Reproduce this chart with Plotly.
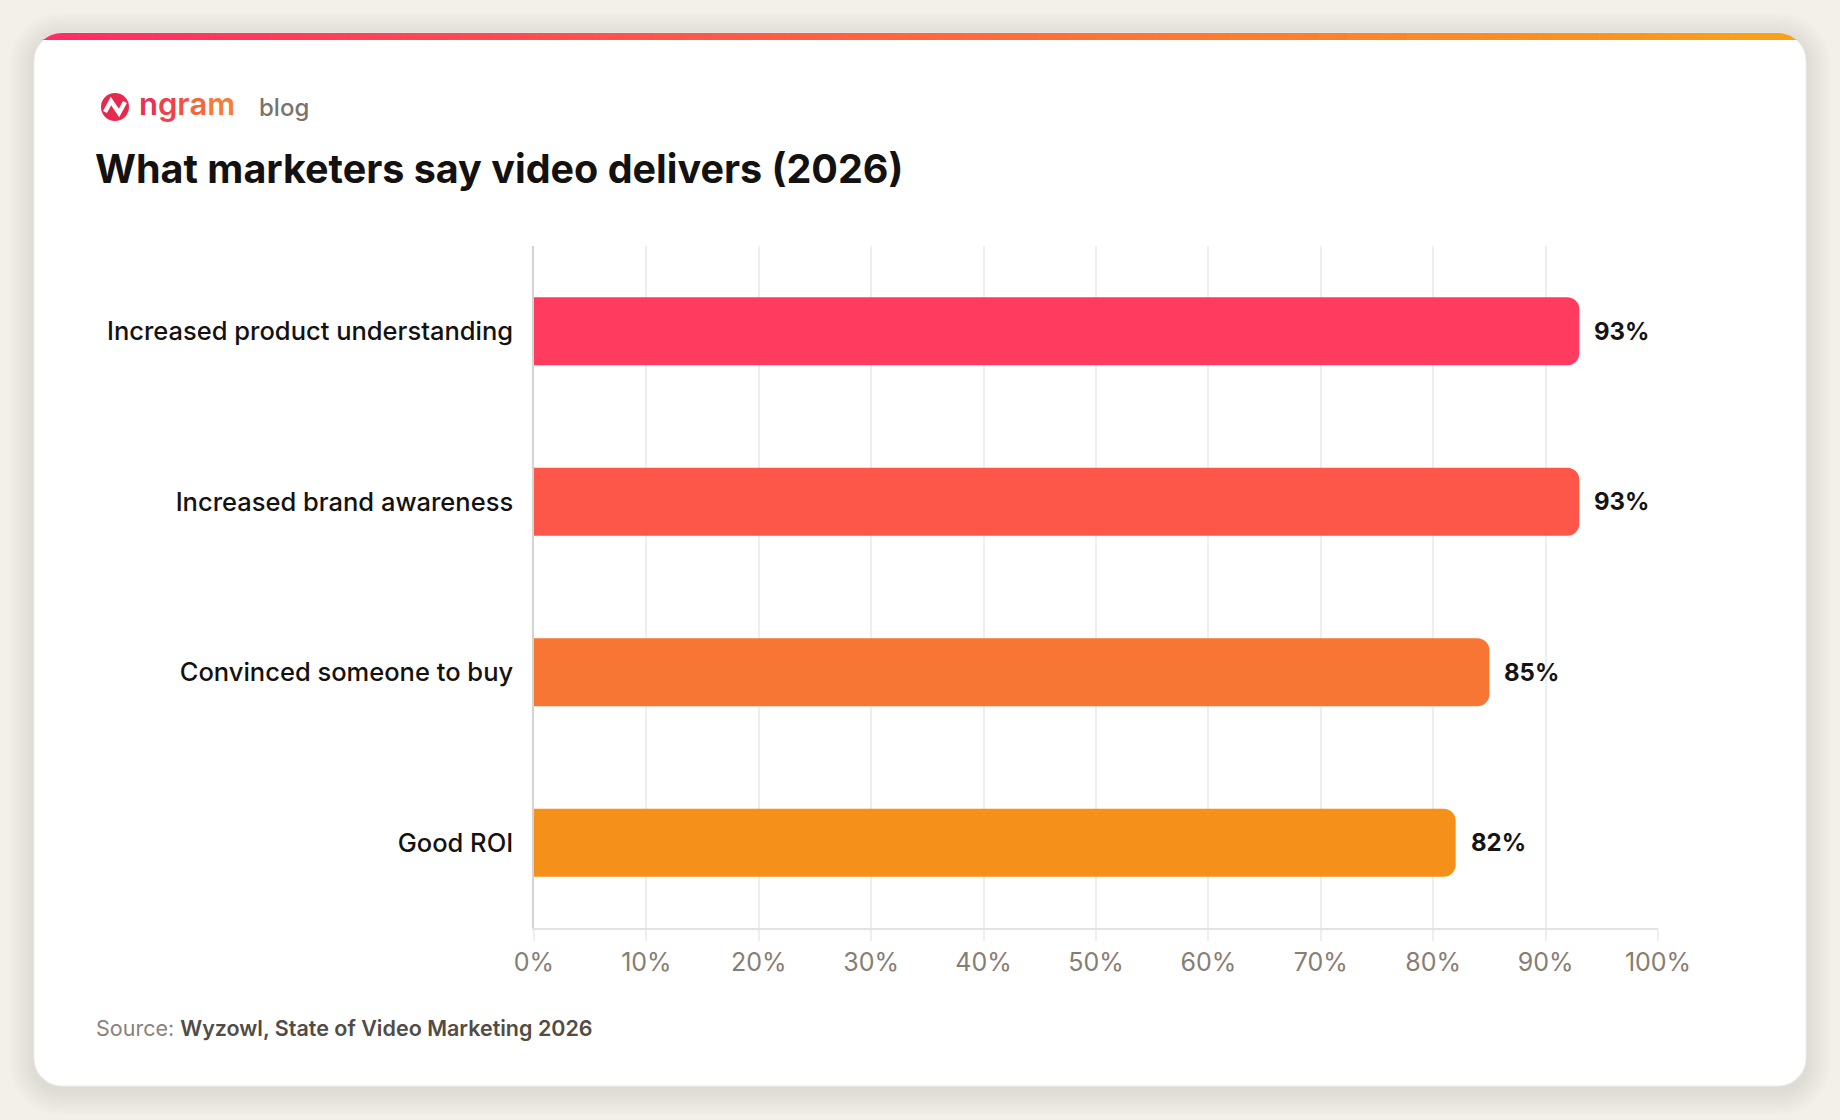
import plotly.graph_objects as go
import math

# ---------------- data ----------------
categories = [
    "Increased product understanding",
    "Increased brand awareness",
    "Convinced someone to buy",
    "Good ROI",
]
values = [93, 93, 85, 82]
value_labels = ["93%", "93%", "85%", "82%"]
bar_colors = ["#FF3C5F", "#FC5749", "#F87633", "#F5911A"]
tick_vals = [0, 10, 20, 30, 40, 50, 60, 70, 80, 90, 100]
tick_text = ["0%", "10%", "20%", "30%", "40%", "50%", "60%", "70%", "80%", "90%", "100%"]
title_text = "What marketers say video delivers (2026)"
source_label = "Source:"
source_text = "Wyzowl, State of Video Marketing 2026"

# ---------------- geometry ----------------
W, H = 1840, 1120
PL, PR, PT, PB = 534, 1658, 246, 928  # plot area in px


def px(x):
    return (x - PL) / (PR - PL)


def py(y):
    return (PB - y) / (PB - PT)


def rrect_path(x0, y0, x1, y1, r):
    k = 0.5523 * r
    d = f"M {px(x0 + r)} {py(y0)} L {px(x1 - r)} {py(y0)} "
    d += f"C {px(x1 - r + k)} {py(y0)} {px(x1)} {py(y0 + r - k)} {px(x1)} {py(y0 + r)} "
    d += f"L {px(x1)} {py(y1 - r)} "
    d += f"C {px(x1)} {py(y1 - r + k)} {px(x1 - r + k)} {py(y1)} {px(x1 - r)} {py(y1)} "
    d += f"L {px(x0 + r)} {py(y1)} "
    d += f"C {px(x0 + r - k)} {py(y1)} {px(x0)} {py(y1 - r + k)} {px(x0)} {py(y1 - r)} "
    d += f"L {px(x0)} {py(y0 + r)} "
    d += f"C {px(x0)} {py(y0 + r - k)} {px(x0 + r - k)} {py(y0)} {px(x0 + r)} {py(y0)} Z"
    return d


shapes = []

# card shadow
CX0, CY0, CX1, CY1, CR = 34, 33, 1806, 1086, 28
for i in range(10, 0, -1):
    e = i * 2.5
    shapes.append(dict(type="path", xref="paper", yref="paper", layer="below",
                       path=rrect_path(CX0 - e, CY0 - e + 4, CX1 + e, CY1 + e + 5, CR + e),
                       fillcolor="rgba(120,100,70,0.010)", line=dict(width=0)))
# card
shapes.append(dict(type="path", xref="paper", yref="paper", layer="below",
                   path=rrect_path(CX0, CY0, CX1, CY1, CR),
                   fillcolor="#FFFFFF", line=dict(color="#EEEBE6", width=1)))

# top gradient stripe
stops = [(0.0, (255, 44, 100)), (0.5, (255, 102, 64)), (1.0, (247, 162, 24))]


def grad(t):
    for (t0, c0), (t1, c1) in zip(stops[:-1], stops[1:]):
        if t <= t1:
            f = (t - t0) / (t1 - t0)
            return "rgb(%d,%d,%d)" % tuple(round(a + (b - a) * f) for a, b in zip(c0, c1))
    return "rgb(%d,%d,%d)" % stops[-1][1]


SY0, SY1 = CY0, CY0 + 7


def top_y(x):
    if x < CX0 + CR:
        dx = CX0 + CR - x
        return CY0 + CR - math.sqrt(max(CR * CR - dx * dx, 0))
    if x > CX1 - CR:
        dx = x - (CX1 - CR)
        return CY0 + CR - math.sqrt(max(CR * CR - dx * dx, 0))
    return CY0


nseg = 120
segw = (CX1 - CX0) / nseg
for i in range(nseg):
    x0 = CX0 + i * segw
    x1 = x0 + segw + 0.6
    xs = [x0 + (x1 - x0) * j / 6 for j in range(7)]
    pts = [(x, min(top_y(x), SY1)) for x in xs]
    d = f"M {px(xs[0])} {py(SY1)} "
    for x, y in pts:
        d += f"L {px(x)} {py(y)} "
    d += f"L {px(xs[-1])} {py(SY1)} Z"
    shapes.append(dict(type="path", xref="paper", yref="paper", layer="below",
                       path=d, fillcolor=grad((x0 + segw / 2 - CX0) / (CX1 - CX0)),
                       line=dict(width=0)))

# logo icon
LX, LY, LR = 115, 107, 14
shapes.append(dict(type="circle", xref="paper", yref="paper", layer="above",
                   x0=px(LX - LR), x1=px(LX + LR), y0=py(LY + LR), y1=py(LY - LR),
                   fillcolor="#E8294F", line=dict(width=0)))
zz = [(-10, 5), (-4, -6), (4, 6), (10, -5)]
d = "M " + " L ".join(f"{px(LX + a)} {py(LY + b)}" for a, b in zz)
shapes.append(dict(type="path", xref="paper", yref="paper", layer="above",
                   path=d, line=dict(color="#FFFFFF", width=4.5)))

FONT = "Inter"

annotations = []
ng_colors = ["#EC3050", "#EF4149", "#F25342", "#F4673D", "#F67C39"]
ng = "".join(f"<span style='color:{c}'>{ch}</span>" for ch, c in zip("ngram", ng_colors))
annotations.append(dict(xref="paper", yref="paper", x=px(137), y=py(104), xanchor="left",
                        yanchor="middle", showarrow=False, text=ng,
                        font=dict(family=FONT, size=31, weight=600)))
annotations.append(dict(xref="paper", yref="paper", x=px(257), y=py(108), xanchor="left",
                        yanchor="middle", showarrow=False, text="blog",
                        font=dict(family=FONT, size=24, color="#7B736A", weight=500)))
annotations.append(dict(xref="paper", yref="paper", x=px(93), y=py(169), xanchor="left",
                        yanchor="middle", showarrow=False, text=title_text,
                        font=dict(family=FONT, size=39.5, color="#141210", weight=700)))
annotations.append(dict(xref="paper", yref="paper", x=px(94), y=py(1028), xanchor="left",
                        yanchor="middle", showarrow=False,
                        text=f"{source_label} <span style='color:#514C46;font-weight:600'>{source_text}</span>",
                        font=dict(family=FONT, size=21.5, color="#8A8178", weight=400)))
for c, v, t in zip(categories, values, value_labels):
    annotations.append(dict(x=v, y=c, xref="x", yref="y", xanchor="left", yanchor="middle",
                            xshift=13, showarrow=False, text=t,
                            font=dict(family=FONT, size=24, color="#161412", weight=700)))

fig = go.Figure(go.Bar(
    x=values, y=categories, orientation="h", width=0.4,
    marker=dict(color=bar_colors, line=dict(width=0)),
    hoverinfo="skip",
))

fig.update_layout(
    width=W, height=H,
    margin=dict(l=PL, r=W - PR, t=PT, b=H - PB, autoexpand=False),
    paper_bgcolor="#F3F0EA",
    plot_bgcolor="rgba(0,0,0,0)",
    barcornerradius=12,
    showlegend=False,
    shapes=shapes,
    annotations=annotations,
    font=dict(family=FONT),
    xaxis=dict(range=[0, 100], tickvals=tick_vals, ticktext=tick_text,
               showgrid=True, gridcolor="#EEEEEE", gridwidth=1.5,
               zeroline=False, showline=True, linecolor="#E4E2DF", linewidth=2,
               ticks="outside", ticklen=11, tickcolor="#EEEEEE", tickwidth=1.5,
               tickfont=dict(family=FONT, size=25, color="#867D73"),
               automargin=False, fixedrange=True),
    yaxis=dict(autorange="reversed", showgrid=False, zeroline=False,
               showline=True, linecolor="#D6D4D1", linewidth=1.5,
               ticks="", ticklabelstandoff=14,
               tickfont=dict(family=FONT, size=25.5, color="#141210", weight=500),
               automargin=False, fixedrange=True),
)

fig.write_html("out.html", config={"displayModeBar": False})
